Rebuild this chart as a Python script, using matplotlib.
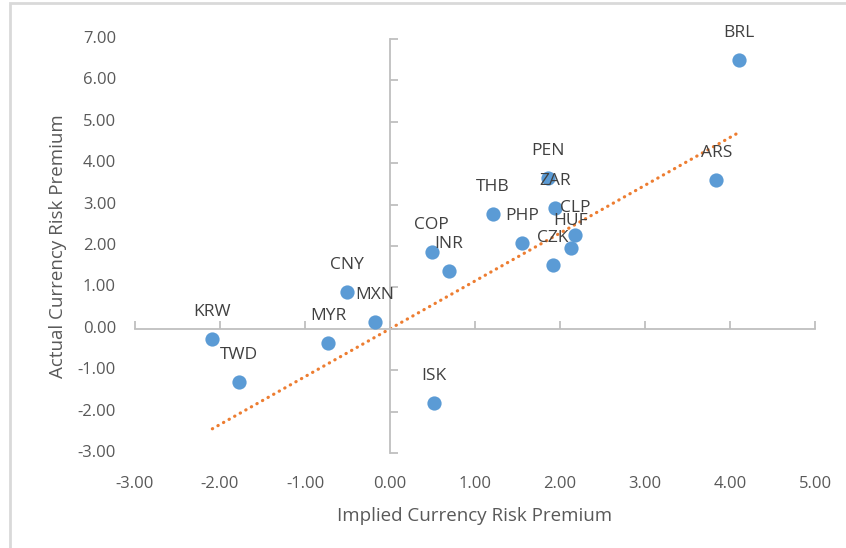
import numpy as np
import matplotlib
matplotlib.use('Agg')
import matplotlib.pyplot as plt
from matplotlib.patches import Rectangle

# currency risk premia: implied vs actual
currencies = ['BRL', 'ARS', 'PEN', 'ZAR', 'THB', 'PHP', 'CLP', 'HUF', 'CZK',
              'COP', 'INR', 'CNY', 'MXN', 'MYR', 'KRW', 'TWD', 'ISK']
implied = [4.11, 3.84, 1.86, 1.94, 1.21, 1.55, 2.18, 2.13, 1.92,
           0.49, 0.69, -0.51, -0.18, -0.73, -2.09, -1.78, 0.52]
actual = [6.50, 3.60, 3.65, 2.92, 2.78, 2.08, 2.27, 1.96, 1.55,
          1.86, 1.40, 0.89, 0.17, -0.34, -0.24, -1.28, -1.79]

x_ticks = [-3, -2, -1, 0, 1, 2, 3, 4, 5]
y_ticks = [-3, -2, -1, 0, 1, 2, 3, 4, 5, 6, 7]

plt.rcParams['font.family'] = ['Open Sans', 'DejaVu Sans']

W, H = 846, 548
fig = plt.figure(figsize=(W / 100, H / 100), dpi=100)
ax = fig.add_axes([135 / W, 1 - 453 / H, 680 / W, 414 / H])

# light chart-area frame
fig.patches.append(Rectangle((10 / W, -0.1), 1.2, 1 - 3 / H + 0.1,
                             transform=fig.transFigure, fill=False,
                             edgecolor='#d9d9d9', linewidth=2))

x = np.array(implied)
y = np.array(actual)

ax.scatter(x, y, s=105, color='#5B9BD5', zorder=3, linewidths=0)

# linear trend line through the origin, over the data range
slope = np.sum(x * y) / np.sum(x * x)
xs = np.array([x.min(), x.max()])
ax.plot(xs, slope * xs, color='#ED7D31', linestyle=(0, (0.1, 1.9)),
        linewidth=2.3, dash_capstyle='round', zorder=2)

for name, xi, yi in zip(currencies, implied, actual):
    ax.annotate(name, (xi, yi), xytext=(0, 19.5), textcoords='offset points',
                ha='center', va='center', fontsize=12.5, color='#404040', zorder=4)

ax.set_xlim(-3, 5)
ax.set_ylim(-3, 7)

# axes cross at the origin, ticks pointing into the plot
for side in ('top', 'right'):
    ax.spines[side].set_visible(False)
for side in ('left', 'bottom'):
    ax.spines[side].set_position(('data', 0))
    ax.spines[side].set_color('#bfbfbf')
    ax.spines[side].set_linewidth(1.3)
ax.set_xticks(x_ticks)
ax.set_yticks(y_ticks)
ax.tick_params(direction='in', length=6, width=1.3, color='#bfbfbf',
               labelbottom=False, labelleft=False)

# tick labels sit at the outer edges
for t in x_ticks:
    ax.text(t, -0.075, f'{t:.2f}', transform=ax.get_xaxis_transform(),
            ha='center', va='center', fontsize=12, color='#595959')
for t in y_ticks:
    ax.text(-0.028, t, f'{t:.2f}', transform=ax.get_yaxis_transform(),
            ha='right', va='center', fontsize=12, color='#595959')

fig.text(475 / W, 1 - 516 / H, 'Implied Currency Risk Premium',
         ha='center', va='center', fontsize=13.5, color='#595959')
fig.text(58 / W, 1 - 246 / H, 'Actual Currency Risk Premium', rotation=90,
         ha='center', va='center', fontsize=13.5, color='#595959')

fig.savefig('out.png', dpi=100)
